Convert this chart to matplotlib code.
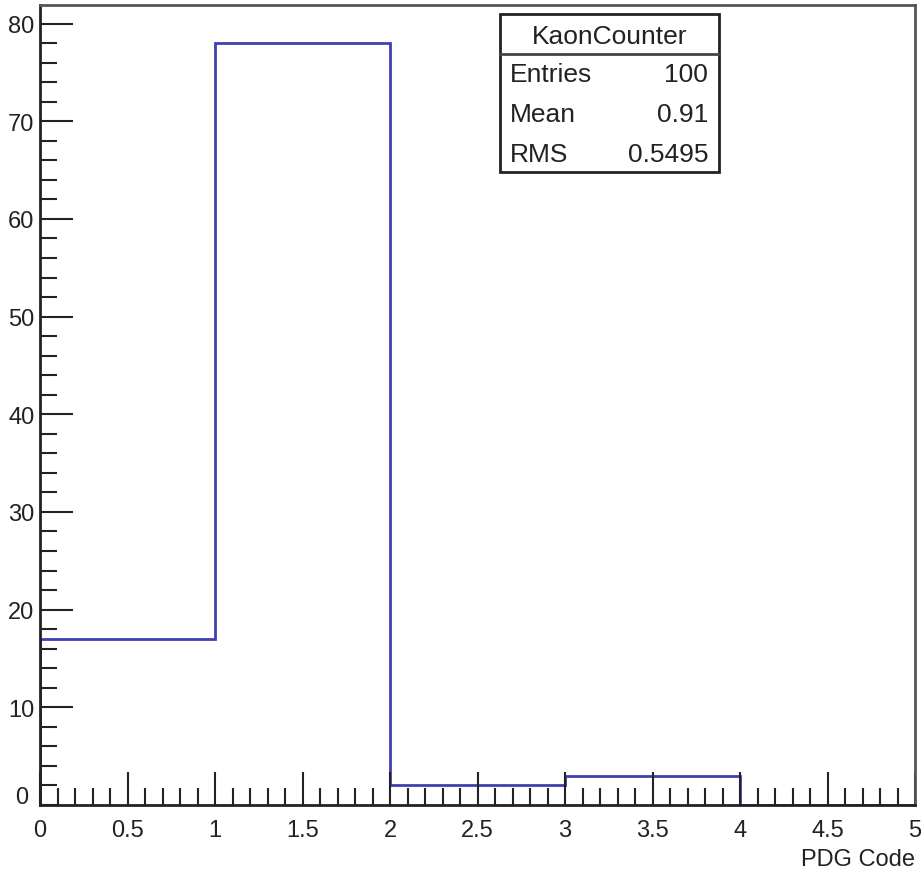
import numpy as np
import matplotlib.pyplot as plt
from matplotlib.ticker import MultipleLocator, FixedLocator

# histogram data (KaonCounter)
bin_edges = [0, 1, 2, 3, 4, 5]
counts = [17, 78, 2, 3, 0]
stats_title = "KaonCounter"
stats_names = ["Entries", "Mean", "RMS"]
stats_values = ["100", "0.91", "0.5495"]
x_label = "PDG Code"

font = ["Liberation Sans Narrow", "Liberation Sans", "DejaVu Sans"]
plt.rcParams["font.family"] = font

fig = plt.figure(figsize=(9.21, 8.78), dpi=100)
ax = fig.add_axes([40 / 921, 1 - 806 / 878, 875 / 921, 800 / 878])

ax.stairs(counts, bin_edges, color="#4040b0", linewidth=2)

ax.set_xlim(0, 5)
ax.set_ylim(0, 1.05 * max(counts))

ax.xaxis.set_major_locator(MultipleLocator(0.5))
ax.xaxis.set_minor_locator(MultipleLocator(0.1))
ax.yaxis.set_major_locator(MultipleLocator(10))
ax.yaxis.set_minor_locator(MultipleLocator(2))
ax.tick_params(which="both", direction="in", top=False, right=False,
               color="#222222", width=1.5, labelsize=17, labelcolor="#222222")
ax.tick_params(which="major", length=24)
ax.tick_params(which="minor", length=12)
ax.tick_params(axis="x", pad=10)
ax.tick_params(axis="y", pad=4)

xt = [0, 0.5, 1, 1.5, 2, 2.5, 3, 3.5, 4, 4.5, 5]
ax.set_xticks(xt)
ax.set_xticklabels(["%g" % v for v in xt])
yt = [10, 20, 30, 40, 50, 60, 70, 80]
ax.set_yticks(yt)
ax.set_yticklabels(["%d" % v for v in yt])
# ROOT puts the y "0" label slightly above the x origin
ax.text(-0.014, 0.01, "0", transform=ax.transAxes, ha="right", va="center",
        fontsize=17, color="#222222")

for s in ["top", "right"]:
    ax.spines[s].set_color("#555555")
    ax.spines[s].set_linewidth(2)
for s in ["left", "bottom"]:
    ax.spines[s].set_color("#222222")
    ax.spines[s].set_linewidth(2)

fig.text(915 / 921, 1 - 860 / 878, x_label, ha="right", va="center",
         fontsize=17, color="#222222")

# stats box
bx0, bx1 = 500 / 921, 719 / 921
by0, by1 = 1 - 173 / 878, 1 - 15 / 878
box = plt.Rectangle((bx0, by0), bx1 - bx0, by1 - by0, transform=fig.transFigure,
                    facecolor="white", edgecolor="#222222", linewidth=2, zorder=5)
fig.add_artist(box)
fig.add_artist(plt.Line2D([bx0, bx1], [1 - 55 / 878] * 2, transform=fig.transFigure,
                          color="#444444", linewidth=2, zorder=6))
fig.text((bx0 + bx1) / 2, 1 - 37 / 878, stats_title, ha="center", va="center",
         fontsize=19, color="#222222", zorder=7)
for i, (n, v) in enumerate(zip(stats_names, stats_values)):
    yy = 1 - (75 + 40 * i) / 878
    fig.text(510 / 921, yy, n, ha="left", va="center", fontsize=19,
             color="#222222", zorder=7)
    fig.text(708 / 921, yy, v, ha="right", va="center", fontsize=19,
             color="#222222", zorder=7)

fig.savefig("out.png", dpi=100, facecolor="white")
